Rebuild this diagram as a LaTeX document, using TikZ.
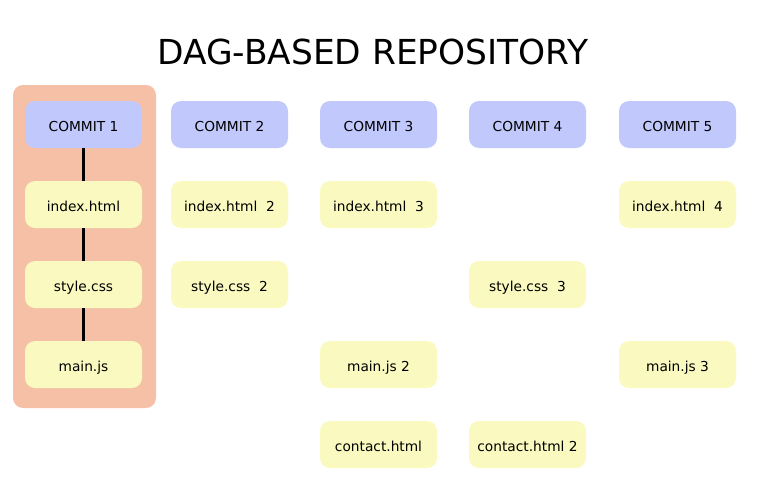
\documentclass[tikz,border=0pt]{standalone}
\usepackage{fontspec}
\setmainfont{DejaVu Sans}
\definecolor{commitfill}{RGB}{192,200,252}
\definecolor{filefill}{RGB}{250,250,192}
\definecolor{groupfill}{RGB}{245,192,166}
\begin{document}
\begin{tikzpicture}[x=0.75pt,y=-0.75pt,
  box/.style={rounded corners=7.5pt, minimum width=87.75pt, minimum height=35.25pt, inner sep=0pt, font=\fontsize{10.3}{12}\selectfont, text=black, text depth=0pt, text height=11pt},
  commitbox/.style={box, fill=commitfill},
  filebox/.style={box, fill=filefill},
  groupbox/.style={rounded corners=7.5pt, fill=groupfill, minimum width=107.25pt, minimum height=242.25pt, inner sep=0pt},
  link/.style={line width=2.25pt, black}]
\useasboundingbox (0,0) rectangle (760,500);
\node[font=\fontsize{25.8}{30}\selectfont] (title) at (373,52) {DAG-BASED REPOSITORY};
\node[groupbox] (group) at (84.5,246.5) {};
% column 1
\node[commitbox] (c1) at (83.5,124.5) {COMMIT 1};
\node[filebox] (i1) at (83.5,204.5) {index.html};
\node[filebox] (s1) at (83.5,284.5) {style.css};
\node[filebox] (m1) at (83.5,364.5) {main.js};
\draw[link] (c1.south) -- (i1.north);
\draw[link] (i1.south) -- (s1.north);
\draw[link] (s1.south) -- (m1.north);
% column 2
\node[commitbox] (c2) at (229.5,124.5) {COMMIT 2};
\node[filebox] (i2) at (229.5,204.5) {index.html\ \ 2};
\node[filebox] (s2) at (229.5,284.5) {style.css\ \ 2};
% column 3
\node[commitbox] (c3) at (378.5,124.5) {COMMIT 3};
\node[filebox] (i3) at (378.5,204.5) {index.html\ \ 3};
\node[filebox] (m3) at (378.5,364.5) {main.js 2};
\node[filebox] (h3) at (378.5,444.5) {contact.html};
% column 4
\node[commitbox] (c4) at (527.5,124.5) {COMMIT 4};
\node[filebox] (s4) at (527.5,284.5) {style.css\ \ 3};
\node[filebox] (h4) at (527.5,444.5) {contact.html 2};
% column 5
\node[commitbox] (c5) at (677.5,124.5) {COMMIT 5};
\node[filebox] (i5) at (677.5,204.5) {index.html\ \ 4};
\node[filebox] (m5) at (677.5,364.5) {main.js 3};
\end{tikzpicture}
\end{document}
